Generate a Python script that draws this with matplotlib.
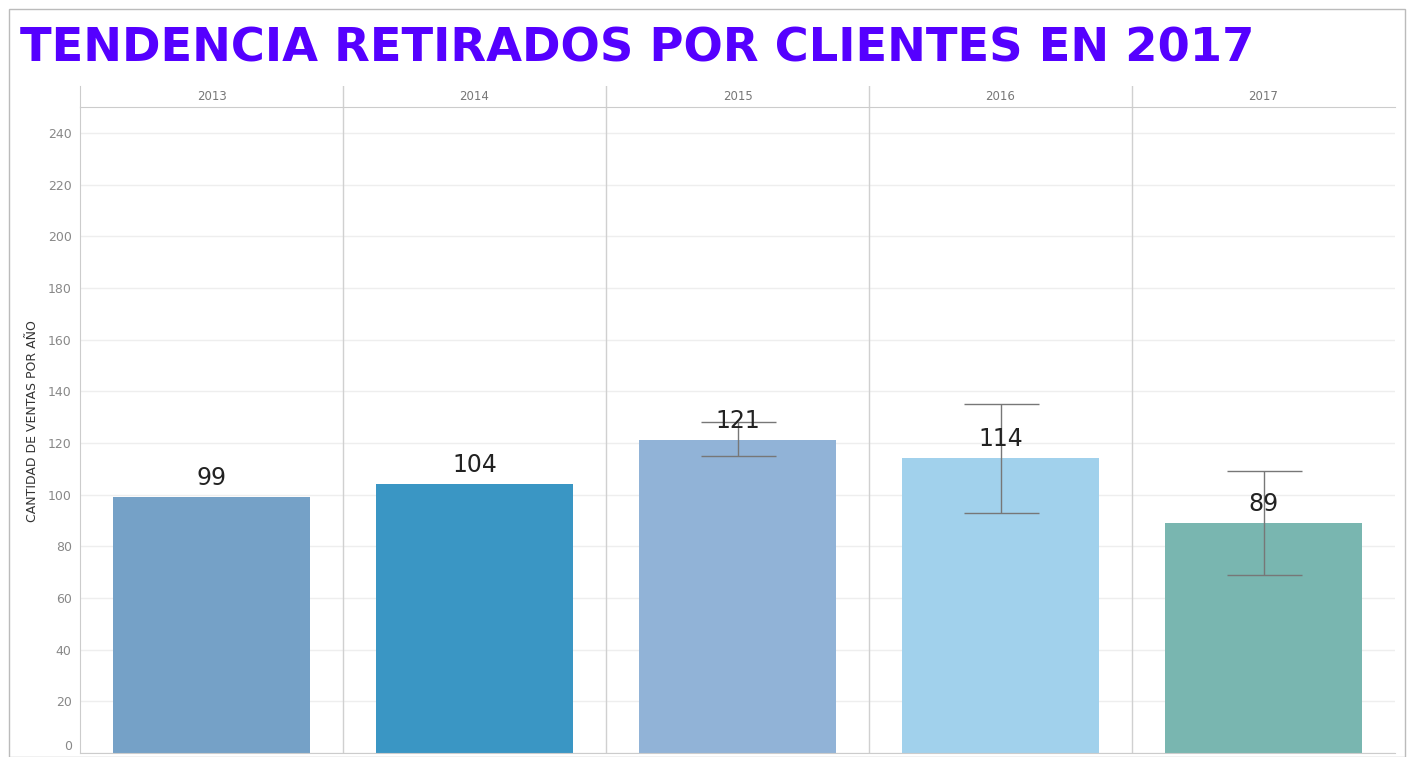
import matplotlib.pyplot as plt
from matplotlib.patches import Rectangle

# data
years = ['2013', '2014', '2015', '2016', '2017']
ventas = [99, 104, 121, 114, 89]
err_low = [None, None, 115, 93, 69]
err_high = [None, None, 128, 135, 109]
colores = ['#75A1C7', '#3A96C4', '#91B3D7', '#A1D1EC', '#79B6B0']
yticks = list(range(0, 241, 20))

W, H = 1408, 757
fig = plt.figure(figsize=(W / 100, H / 100), dpi=100)

# outer frame
fig.patches.append(Rectangle((9 / W, 0), (1405 - 9) / W, (757 - 9) / H,
                             transform=fig.transFigure, fill=False,
                             edgecolor='#bbbbbb', linewidth=1))

fig.text(20 / W, 1 - 49 / H, 'TENDENCIA RETIRADOS POR CLIENTES EN 2017',
         color='#5500FF', fontsize=33.4, fontweight='bold', va='center',
         ha='left', family='DejaVu Sans')

left, right = 80 / W, 1395 / W
bottom, top = 4 / H, 1 - 107 / H
ax = fig.add_axes([left, bottom, right - left, top - bottom])

x = list(range(len(years)))
ax.bar(x, ventas, width=0.75, color=colores, zorder=2)

for i in x:
    if err_low[i] is not None:
        ax.errorbar(i, (err_low[i] + err_high[i]) / 2,
                    yerr=(err_high[i] - err_low[i]) / 2,
                    fmt='none', ecolor='#777777', elinewidth=1,
                    capsize=27, capthick=1, zorder=3)
    ax.annotate(str(ventas[i]), (i, ventas[i]), xytext=(0, 14),
                textcoords='offset points', ha='center', va='center',
                fontsize=17, color='#222222', zorder=4)

ax.set_xlim(-0.5, len(years) - 0.5)
ax.set_ylim(0, 250)
ax.set_yticks(yticks)
ax.set_xticks([])
ax.tick_params(axis='y', labelsize=9, labelcolor='#888888', length=0, pad=6)
ax.get_yticklabels()[0].set_verticalalignment('bottom')
ax.yaxis.grid(True, color='#eeeeee', linewidth=1, zorder=0)
ax.set_axisbelow(True)
for i in range(1, len(years)):
    ax.axvline(i - 0.5, color='#d0d0d0', linewidth=1, zorder=1)
for s in ['top', 'right']:
    ax.spines[s].set_visible(False)
for s in ['left', 'bottom']:
    ax.spines[s].set_color('#cccccc')
ax.set_ylabel('CANTIDAD DE VENTAS POR AÑO', fontsize=9, color='#333333')
ax.yaxis.set_label_coords(-41 / (1395 - 80), (753 - 421) / (753 - 107))

# header row with years
hax = fig.add_axes([left, top, right - left, 21 / H])
hax.set_xlim(-0.5, len(years) - 0.5)
hax.set_ylim(0, 1)
hax.set_xticks([])
hax.set_yticks([])
for s in ['top', 'right']:
    hax.spines[s].set_visible(False)
for s in ['left', 'bottom']:
    hax.spines[s].set_color('#cccccc')
for i, yr in enumerate(years):
    hax.text(i, 0.5, yr, ha='center', va='center', fontsize=8.5,
             color='#777777')
    if i > 0:
        hax.axvline(i - 0.5, color='#d0d0d0', linewidth=1)

fig.savefig('out.png', dpi=100)
